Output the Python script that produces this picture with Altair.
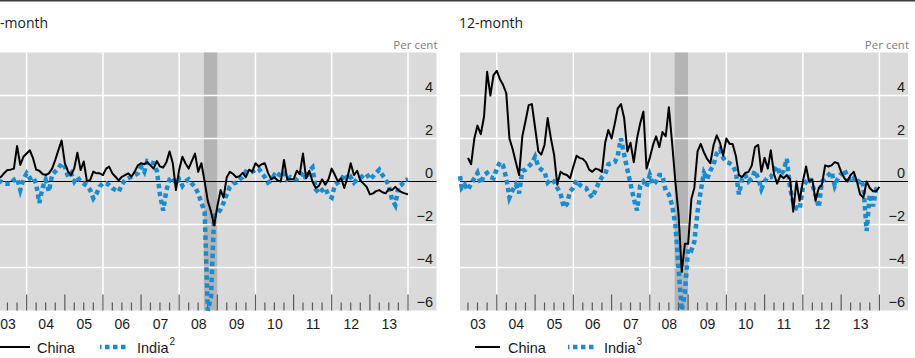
import altair as alt
import pandas as pd

# ---------------------------------------------------------------------------
# Monthly percentage changes in the exchange rate against the dollar
# ---------------------------------------------------------------------------
china_3m_start = "2003-04-01"
china_3m = [
    0.15, 0.22, 0.4, 0.53, 0.55, 0.6, 1.65, 0.77, 1.15,
    1.3, 1.45, 1.1, 0.55, 0.5, 0.35, 0.3, 0.38, 0.6, 1.0, 1.47, 1.9,
    0.85, 0.46, 0.3, 0.61, 1.34, 0.53, 0.93, 0.0, 0.08, 0.46, 0.38, 0.38,
    0.3, 0.6, 0.69, 0.38, 0.22, 0.05, 0.22, 0.3, 0.38, 0.22, 0.46, 0.75,
    0.85, 0.8, 0.9, 0.75, 0.6, 0.95, 0.7, 0.65, 0.9, 1.4, 0.85, -0.4,
    0.55, 1.15, 0.85, 0.6, 0.95, 1.3, 0.45, 0.85, 0.0, -0.9, -1.4, -2.05,
    -1.15, -0.4, -0.75, 0.2, 0.45, 0.35, 0.2, 0.25, 0.4, 0.2, 0.55, 0.45,
    0.85, 0.7, 0.8, 0.85, 0.4, 0.1, 0.2, 0.05, 0.0, 1.0, 0.1, 0.1,
    0.1, 0.5, 0.35, 1.3, 0.15, 0.5, 0.0, -0.3, -0.2, 0.1, -0.15, 0.1,
    0.6, 0.3, 0.0, 0.15, -0.3, 0.2, 0.85, 0.3, 0.5, 0.05, -0.1, -0.25,
    -0.6, -0.55, -0.45, -0.4, -0.5, -0.55, -0.35, -0.4, -0.25, -0.4, -0.5, -0.55,
    -0.6,
]

india_3m_start = "2003-04-01"
india_3m = [
    0.0, 0.0, -0.1, -0.1, -0.1, 0.08, 0.15, -0.4, 0.1,
    0.38, 0.15, 0.22, -0.1, -1.0, -0.3, 0.08, -0.47, 0.3, 0.46, 0.61, 0.85,
    0.69, 0.22, 0.38, 0.0, 0.22, 0.0, -0.1, -0.2, -0.4, -0.78, -0.55, -0.23,
    -0.08, -0.08, -0.16, -0.31, -0.4, -0.47, -0.16, 0.08, 0.15, 0.22, 0.3, 0.38,
    0.69, 0.45, 0.95, 0.9, 0.85, 0.5, -0.6, -1.35, -0.4, 0.1, 0.2, -0.1,
    0.1, -0.2, 0.0, 0.1, -0.1, -0.25, -0.55, -1.0, -1.4, -6.4, -5.4, -1.6,
    -1.5, -1.3, -1.0, -0.6, -0.25, -0.1, -0.05, 0.1, 0.2, 0.45, 0.4, 0.45,
    0.55, 0.6, 0.4, 0.2, -0.05, 0.05, 0.3, 0.2, 0.45, 0.4, 0.1, 0.2,
    0.1, 0.1, 0.25, 0.45, 0.1, 0.5, 0.65, -0.35, -0.55, -0.4, -0.3, -0.65,
    -0.75, -0.15, -0.05, 0.05, 0.35, 0.05, 0.2, -0.05, 0.1, 0.15, 0.3, 0.35,
    0.1, 0.25, 0.4, 0.55, 0.3, 0.1, -0.2, -0.85, -1.1, -0.25, -0.15, 0.05,
    0.1,
]

china_12m_start = "2003-04-01"
china_12m = [
    1.1, 0.8, 2.0, 2.6, 2.2, 3.0, 5.1, 4.0, 4.95,
    5.15, 4.75, 4.5, 4.1, 2.0, 1.5, 0.9, 0.3, 2.1, 2.8, 3.55, 3.6,
    2.5, 1.4, 1.25, 1.7, 2.95, 2.0, 1.25, -0.15, 0.45, 0.35, 0.3, 0.15,
    0.7, 1.2, 1.1, 1.05, 0.9, 0.55, 0.45, 0.6, 0.55, 0.45, 1.8, 2.4,
    2.0, 2.7, 3.4, 3.6, 2.95, 1.4, 1.8, 0.9, 2.0, 2.7, 3.25, 0.6,
    1.1, 1.7, 2.1, 1.6, 2.3, 2.1, 3.45, 1.8, 0.0, -1.5, -4.2, -2.9,
    -2.9, -0.8, -0.3, 1.4, 1.75, 1.35, 1.05, 0.85, 1.7, 2.15, 1.8, 1.2,
    2.0, 1.75, 1.75, 1.2, 0.3, 0.2, 0.4, 0.45, 0.75, 1.6, 1.7, 0.45,
    1.1, 0.6, 1.45, 0.35, -0.1, 0.3, 0.15, 0.3, 0.1, -1.4, 0.0, -0.9,
    0.0, 0.7, 0.0, 0.1, -0.9, -0.3, -0.15, 0.75, 0.7, 0.75, 0.9, 0.85,
    0.45, 0.15, 0.0, 0.3, 0.45, 0.0, -0.6, -0.75, 0.0, -0.3, -0.45, -0.45,
    -0.25,
]

india_12m_start = "2003-01-01"
india_12m = [
    0.25, -0.3, -0.15, -0.4, -0.1, 0.15, 0.4, -0.1, 0.3, 0.4, 0.2, 0.15,
    0.6, 0.9, 0.75, 0.15, -0.75, -0.4, -0.15, -0.55, 0.5, 0.55, 0.7, 0.85,
    1.15, 0.7, 0.55, 0.45, -0.05, 0.1, 0.0, -0.3, -0.55, -1.2, -1.05, -0.45,
    -0.3, 0.05, -0.15, -0.25, -0.3, -0.55, -0.75, -0.4, -0.05, 0.2, 0.35, 0.8,
    0.85, 0.9, 1.2, 2.0, 1.25, 0.55, -0.1, -0.8, -1.35, -0.2, 0.0, -0.25,
    0.3, -0.15, 0.0, 0.3, 0.3, -0.45, -0.6, -1.1, -2.0, -4.0, -6.3, -5.2,
    -3.1, -3.2, -2.8, -1.4, -0.45, 0.4, 0.1, 0.5, 0.8, 1.3, 1.5, 1.1,
    0.9, 0.85, 0.75, 0.45, -0.6, 0.15, 0.3, 0.0, 0.15, 0.5, 0.15, -0.35,
    0.0, 0.2, 0.2, 0.5, 0.7, 0.3, 0.5, 1.05, -0.3, -0.95, -1.25, -1.3,
    -0.3, 0.0, 0.15, -0.15, -0.6, -1.2, 0.0, 0.15, 0.3, 0.45, -0.2, 0.15,
    0.35, 0.55, 0.25, 0.0, 0.15, -0.1, 0.1, -0.2, -2.3, -0.6, -1.15, -0.35,
    -0.3,
]

# axis furniture
years = list(range(2003, 2014))
year_labels = ["03", "04", "05", "06", "07", "08", "09", "10", "11", "12", "13"]
grid_years = [2004, 2006, 2008, 2010, 2012, 2014]
y_ticks = [4, 2, 0, -2, -4, -6]
y_grid = [4, 2, -2, -4]
x_start, x_end = "2003-01-15", "2014-10-01"
y_low, y_high = -6, 6
shade_start, shade_end = "2008-08-25", "2008-12-31"
panel_titles = ["-month", "12-month"]
unit_label = "Per cent"
legend_china = "China"
legend_india = "India"
legend_notes = ["2", "3"]

# ---------------------------------------------------------------------------
BG = "#dadada"
SHADE = "#b4b4b4"
BLUE = "#1b8bcf"
TEXT = "#1a1a1a"
TICK = "#5a5a5a"
NUM_FONT = "Liberation Sans"
TITLE_FONT = "Open Sans"
DASH = [4.5, 3.5]

Y_SCALE = alt.Scale(domain=[y_low, y_high], range=[310.5, 52.5], clamp=True)
X_DOMAIN = [
    alt.DateTime(year=2003, month=1, date=15),
    alt.DateTime(year=2014, month=10, date=1),
]


def series_frame(start, values):
    return pd.DataFrame(
        {"date": pd.date_range(start, periods=len(values), freq="MS"), "value": values}
    )


frame = pd.DataFrame(
    {"x0": [pd.Timestamp(x_start)], "x1": [pd.Timestamp(x_end)], "lo": [y_low], "hi": [y_high]}
)
shade = pd.DataFrame(
    {"x0": [pd.Timestamp(shade_start)], "x1": [pd.Timestamp(shade_end)], "lo": [y_low], "hi": [y_high]}
)
vgrid = pd.DataFrame(
    {"date": pd.to_datetime([f"{y}-01-01" for y in grid_years]), "lo": y_low, "hi": y_high}
)
hgrid = pd.DataFrame({"v": y_grid, "x0": pd.Timestamp(x_start), "x1": pd.Timestamp(x_end)})
zero = pd.DataFrame({"v": [0], "x0": [pd.Timestamp(x_start)], "x1": [pd.Timestamp(x_end)]})
major_ticks = pd.DataFrame({"date": pd.to_datetime([f"{y}-01-01" for y in years[1:] + [2014]])})
minor_ticks = pd.DataFrame(
    {"date": pd.to_datetime([f"{y}-{m:02d}-01" for y in years for m in (4, 7, 10)])}
)
year_df = pd.DataFrame(
    {"date": pd.to_datetime([f"{y}-07-01" for y in years]), "label": year_labels}
)
label_df = pd.DataFrame({"v": y_ticks})
one = pd.DataFrame({"k": [0]})


def text_at(txt, x, y, size, color=TEXT, font=NUM_FONT, align="left"):
    return (
        alt.Chart(pd.DataFrame({"t": [txt]}))
        .mark_text(align=align, baseline="alphabetic", fontSize=size, font=font, color=color)
        .encode(x=alt.value(x), y=alt.value(y), text="t:N")
    )


def panel(china_df, india_df, x_range, title, title_x, label_x, note, leg):
    xs = alt.Scale(domain=X_DOMAIN, range=x_range, clamp=True)

    def X(field):
        return alt.X(f"{field}:T", scale=xs, axis=None)

    def Y(field):
        return alt.Y(f"{field}:Q", scale=Y_SCALE, axis=None)

    bg = alt.Chart(frame).mark_rect(color=BG).encode(x=X("x0"), x2="x1", y=Y("lo"), y2="hi")
    band = alt.Chart(shade).mark_rect(color=SHADE).encode(x=X("x0"), x2="x1", y=Y("lo"), y2="hi")
    vlines = (
        alt.Chart(vgrid)
        .mark_rule(color="white", strokeWidth=1.5)
        .encode(x=X("date"), y=Y("lo"), y2="hi")
    )
    hlines = (
        alt.Chart(hgrid)
        .mark_rule(color="white", strokeWidth=1.5)
        .encode(y=Y("v"), x=X("x0"), x2="x1")
    )
    ticks_major = (
        alt.Chart(major_ticks)
        .mark_rule(color=TICK, strokeWidth=1.2)
        .encode(x=X("date"), y=alt.value(310.5), y2=alt.value(294.5))
    )
    ticks_minor = (
        alt.Chart(minor_ticks)
        .mark_rule(color=TICK, strokeWidth=1.2)
        .encode(x=X("date"), y=alt.value(310.5), y2=alt.value(302.5))
    )
    zline = (
        alt.Chart(zero)
        .mark_rule(color="black", strokeWidth=1)
        .encode(y=Y("v"), x=X("x0"), x2="x1")
    )
    india = (
        alt.Chart(india_df)
        .mark_line(color=BLUE, strokeWidth=4.5, strokeDash=DASH, strokeCap="butt")
        .encode(x=X("date"), y=Y("value"))
    )
    china = (
        alt.Chart(china_df)
        .mark_line(color="black", strokeWidth=2, strokeJoin="round")
        .encode(x=X("date"), y=Y("value"))
    )
    ylabels = (
        alt.Chart(label_df)
        .mark_text(align="right", baseline="alphabetic", dy=-4, fontSize=14.5,
                   font=NUM_FONT, color=TEXT)
        .encode(y=Y("v"), x=alt.value(label_x), text=alt.Text("v:Q", format="d"))
    )
    xlabels = (
        alt.Chart(year_df)
        .mark_text(align="center", baseline="alphabetic", fontSize=14, dx=0.5,
                   font=NUM_FONT, color=TEXT)
        .encode(x=X("date"), y=alt.value(329), text="label:N")
    )

    # title, unit and legend
    title_mark = text_at(title, title_x, 28, 14, font=TITLE_FONT)
    unit_mark = text_at(unit_label, x_range[1] + 1, 49, 11.5, color="#7d7d7d",
                        font=TITLE_FONT, align="right")
    leg_china = (
        alt.Chart(one)
        .mark_rule(color="black", strokeWidth=2)
        .encode(x=alt.value(leg[0]), x2=alt.value(leg[1]), y=alt.value(347))
    )
    leg_china_txt = text_at(legend_china, leg[2], 352.5, 14.5)
    leg_india = (
        alt.Chart(one)
        .mark_rule(color=BLUE, strokeWidth=4.5, strokeDash=DASH, strokeDashOffset=3,
                   strokeCap="butt")
        .encode(x=alt.value(leg[3]), x2=alt.value(leg[4]), y=alt.value(347))
    )
    leg_india_txt = text_at(legend_india, leg[5], 352.5, 14.5)
    leg_note = text_at(note, leg[5] + 32.5, 344.5, 10)

    return alt.layer(
        bg, band, vlines, hlines, ticks_minor, ticks_major, zline, india, china,
        ylabels, xlabels, title_mark, unit_mark,
        leg_china, leg_china_txt, leg_india, leg_india_txt, leg_note,
    )


left = panel(
    series_frame(china_3m_start, china_3m),
    series_frame(india_3m_start, india_3m),
    [-10, 436.5], panel_titles[0], 0, 433, legend_notes[0],
    [-2, 30, 37, 100, 128, 137],
)
right = panel(
    series_frame(china_12m_start, china_12m),
    series_frame(india_12m_start, india_12m),
    [460, 908], panel_titles[1], 459, 905, legend_notes[1],
    [475, 500, 508, 568, 597, 604],
)

border = (
    alt.Chart(one)
    .mark_rule(color="#3c3c3c", strokeWidth=1.5)
    .encode(x=alt.value(0), x2=alt.value(915), y=alt.value(0.75))
)

chart = (
    alt.layer(border, left, right)
    .resolve_scale(x="independent")
    .properties(
        width=915,
        height=358,
        autosize=alt.AutoSizeParams(type="none"),
        padding=0,
        background="white",
    )
    .configure_view(stroke=None)
)

chart.save("out.html", embed_options={"renderer": "svg", "actions": False})
